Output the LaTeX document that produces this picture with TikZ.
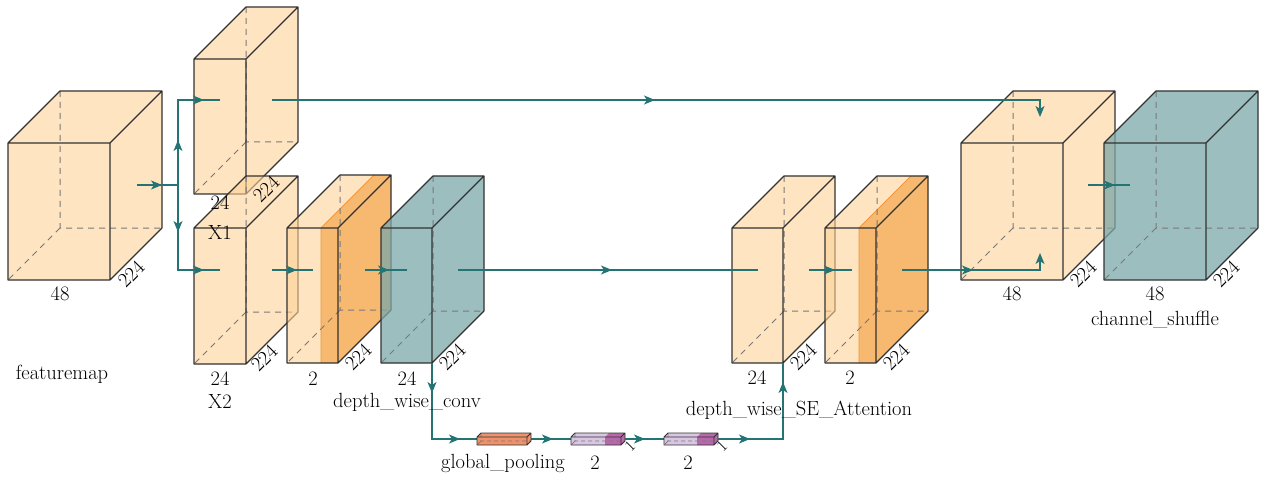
\documentclass[tikz,border=0pt]{standalone}
\usetikzlibrary{arrows.meta,decorations.markings}
\definecolor{lightor}{RGB}{253,210,150}
\definecolor{darkor}{RGB}{246,174,93}
\definecolor{darkorline}{RGB}{240,150,60}
\definecolor{tealf}{RGB}{124,168,168}
\definecolor{edgec}{RGB}{50,50,50}
\definecolor{hidc}{RGB}{120,120,120}
\definecolor{arrowc}{RGB}{36,116,116}
\definecolor{coral}{RGB}{238,146,108}
\definecolor{lpurp}{RGB}{217,198,226}
\definecolor{dpurp}{RGB}{182,104,170}
\newcommand{\cuboid}[7]{%
  \begin{scope}[shift={(#2,#3)}]
    \coordinate (#1-ftl) at (0,0);
    \coordinate (#1-ftr) at (#4,0);
    \coordinate (#1-fbl) at (0,#5);
    \coordinate (#1-fbr) at (#4,#5);
    \coordinate (#1-btl) at (#6,-#6);
    \coordinate (#1-btr) at ({#4+#6},-#6);
    \coordinate (#1-bbl) at (#6,{#5-#6});
    \coordinate (#1-bbr) at ({#4+#6},{#5-#6});
  \end{scope}
  \fill[#7] (#1-ftl) -- (#1-btl) -- (#1-btr) -- (#1-bbr) -- (#1-fbr) -- (#1-fbl) -- cycle;
}
\newcommand{\cubeedges}[3][]{%
  \draw[chidden,#1] (#3-btl) -- (#3-bbl) -- (#3-bbr) (#3-bbl) -- (#3-fbl);
  \draw[cedge,#2] (#3-ftl) rectangle (#3-fbr) (#3-ftl) -- (#3-btl) -- (#3-btr) -- (#3-ftr) (#3-btr) -- (#3-bbr) -- (#3-fbr);
}
\begin{document}
\begin{tikzpicture}[x=1pt,y=-1pt,
  orfill/.style={fill=lightor,fill opacity=0.6},
  darkfill/.style={fill=darkor,fill opacity=0.8},
  tealfill/.style={fill=tealf,fill opacity=0.75},
  cedge/.style={draw=edgec,line width=1.1pt,line join=round},
  chidden/.style={draw=hidc,line width=1pt,dash pattern=on 6pt off 5pt},
  conn/.style={draw=arrowc,color=arrowc,line width=1.35pt},
  tipat/.style={postaction={decorate,decoration={markings,mark=at position #1 with {\arrow{Stealth[length=11pt,width=9pt,inset=3pt]}}}}},
  endtip/.style={-{Stealth[length=11pt,width=9pt,inset=3pt]}},
  lab/.style={font=\fontsize{20.5}{23}\selectfont,inner sep=0pt,text=black},
  dim/.style={font=\fontsize{20.5}{23}\selectfont,inner sep=0pt,rotate=45,text=black},
  small/.style={font=\fontsize{16}{18}\selectfont,inner sep=0pt,rotate=45,text=black}]
\useasboundingbox (0,0) rectangle (1263,481);

% feature map
\cuboid{fm}{8}{143}{102}{137}{52}{orfill}
\cubeedges{}{fm}
% X1 and X2
\cuboid{xa}{194}{59}{52}{135}{52}{orfill}
\cubeedges{}{xa}
\cuboid{xb}{194}{228}{52}{136}{52}{orfill}
\cubeedges{}{xb}
% 2-block
\cuboid{ba}{287}{228}{51}{135}{53}{orfill}
\cuboid{bad}{321}{228}{17}{135}{53}{darkfill}
\draw[darkorline,line width=0.8pt] (bad-fbl) -- (bad-ftl) -- (bad-btl);
\cubeedges{}{ba}
% teal block
\cuboid{tb}{381}{228}{51}{135}{52}{tealfill}
\cubeedges{}{tb}
% SE blocks
\cuboid{sa}{732}{228}{51}{135}{52}{orfill}
\cubeedges{}{sa}
\cuboid{sb}{825}{228}{51}{135}{52}{orfill}
\cuboid{sbd}{859}{228}{17}{135}{52}{darkfill}
\draw[darkorline,line width=0.8pt] (sbd-fbl) -- (sbd-ftl) -- (sbd-btl);
\cubeedges{}{sb}
% output cubes
\cuboid{fo}{961}{143}{102}{137}{52}{orfill}
\cubeedges{}{fo}
\cuboid{cs}{1104}{143}{102}{137}{52}{tealfill}
\cubeedges{}{cs}

% connectors
\coordinate (fmout) at (137,185);
\coordinate (split) at (178,185);
\coordinate (x1in) at (220,100);
\coordinate (x2in) at (220,270);
\coordinate (x1out) at (272,100);
\coordinate (x2out) at (272,270);
\coordinate (b2in) at (313,270);
\coordinate (b2out) at (365,270);
\coordinate (tbin) at (407,270);
\coordinate (tbout) at (458,270);
\coordinate (sain) at (758,270);
\coordinate (saout) at (809,270);
\coordinate (sbin) at (852,270);
\coordinate (sbout) at (902,270);
\coordinate (fotop) at (1040,100);
\coordinate (fotopin) at (1040,117);
\coordinate (fobot) at (1040,270);
\coordinate (fobotin) at (1040,253);
\coordinate (foout) at (1088,185);
\coordinate (csin) at (1130,185);
\coordinate (tbdown) at (432,363);
\coordinate (bl) at (432,439);
\coordinate (br) at (783,439);
\coordinate (saup) at (783,363);

\draw[conn,tipat=25pt] (fmout) -- (split);
\draw[conn,tipat=45pt,tipat=111pt] (split) |- (x1in);
\draw[conn,tipat=47pt,tipat=111pt] (split) |- (x2in);
\draw[conn,tipat=383pt,endtip] (x1out) -- (fotop) -- (fotopin);
\draw[conn,tipat=25pt] (x2out) -- (b2in);
\draw[conn,tipat=24pt] (b2out) -- (tbin);
\draw[conn,tipat=154pt] (tbout) -- (sain);
\draw[conn,tipat=26pt] (saout) -- (sbin);
\draw[conn,tipat=71pt,endtip] (sbout) -- (fobot) -- (fobotin);
\draw[conn,tipat=27pt] (foout) -- (csin);
\draw[conn,tipat=30pt,tipat=104pt,tipat=197pt,tipat=289pt,tipat=394pt,tipat=484pt] (tbdown) -- (bl) -- (br) -- (saup);

% small strips
\cuboid{s1}{477}{437}{50}{8}{4}{fill=coral}
\cubeedges[line width=0.7pt,dash pattern=on 4pt off 3pt]{line width=0.8pt}{s1}
\cuboid{s2}{571}{437}{50}{8}{4}{fill=lpurp}
\cuboid{s2d}{605}{437}{16}{8}{4}{fill=dpurp}
\cubeedges[line width=0.7pt,dash pattern=on 4pt off 3pt]{line width=0.8pt}{s2}
\cuboid{s3}{664}{437}{50}{8}{4}{fill=lpurp}
\cuboid{s3d}{697}{437}{17}{8}{4}{fill=dpurp}
\cubeedges[line width=0.7pt,dash pattern=on 4pt off 3pt]{line width=0.8pt}{s3}

% labels
\node[lab] (l48a) at (60,294) {48};
\node[dim] (l224a) at (131,274) {224};
\node[lab] (lfm) at (62,374) {featuremap};
\node[lab] (l24a) at (220,203) {24};
\node[lab] (lx1) at (220,232) {X1};
\node[dim] (l224b) at (266,189) {224};
\node[lab] (l24b) at (220,379) {24};
\node[lab] (lx2) at (220,401) {X2};
\node[dim] (l224c) at (264,358) {224};
\node[lab] (l2a) at (313,379) {2};
\node[dim] (l224d) at (358,357) {224};
\node[lab] (l24c) at (407,379) {24};
\node[dim] (l224e) at (452,357) {224};
\node[lab] (ldwc) at (407,402) {depth\_wise\_conv};
\node[lab] (l24d) at (757,378) {24};
\node[dim] (l224f) at (803,357) {224};
\node[lab] (l2b) at (850,378) {2};
\node[dim] (l224g) at (896,357) {224};
\node[lab] (lse) at (799,410) {depth\_wise\_SE\_Attention};
\node[lab] (l48b) at (1012,294) {48};
\node[dim] (l224h) at (1083,274) {224};
\node[lab] (l48c) at (1155,294) {48};
\node[dim] (l224i) at (1226,274) {224};
\node[lab] (lcs) at (1155,320) {channel\_shuffle};
\node[lab] (lgp) at (503,463) {global\_pooling};
\node[lab] (l2c) at (595,463) {2};
\node[lab] (l2d) at (688,463) {2};
\node[small] (l1a) at (630,446) {1};
\node[small] (l1b) at (722,446) {1};
\end{tikzpicture}
\end{document}
